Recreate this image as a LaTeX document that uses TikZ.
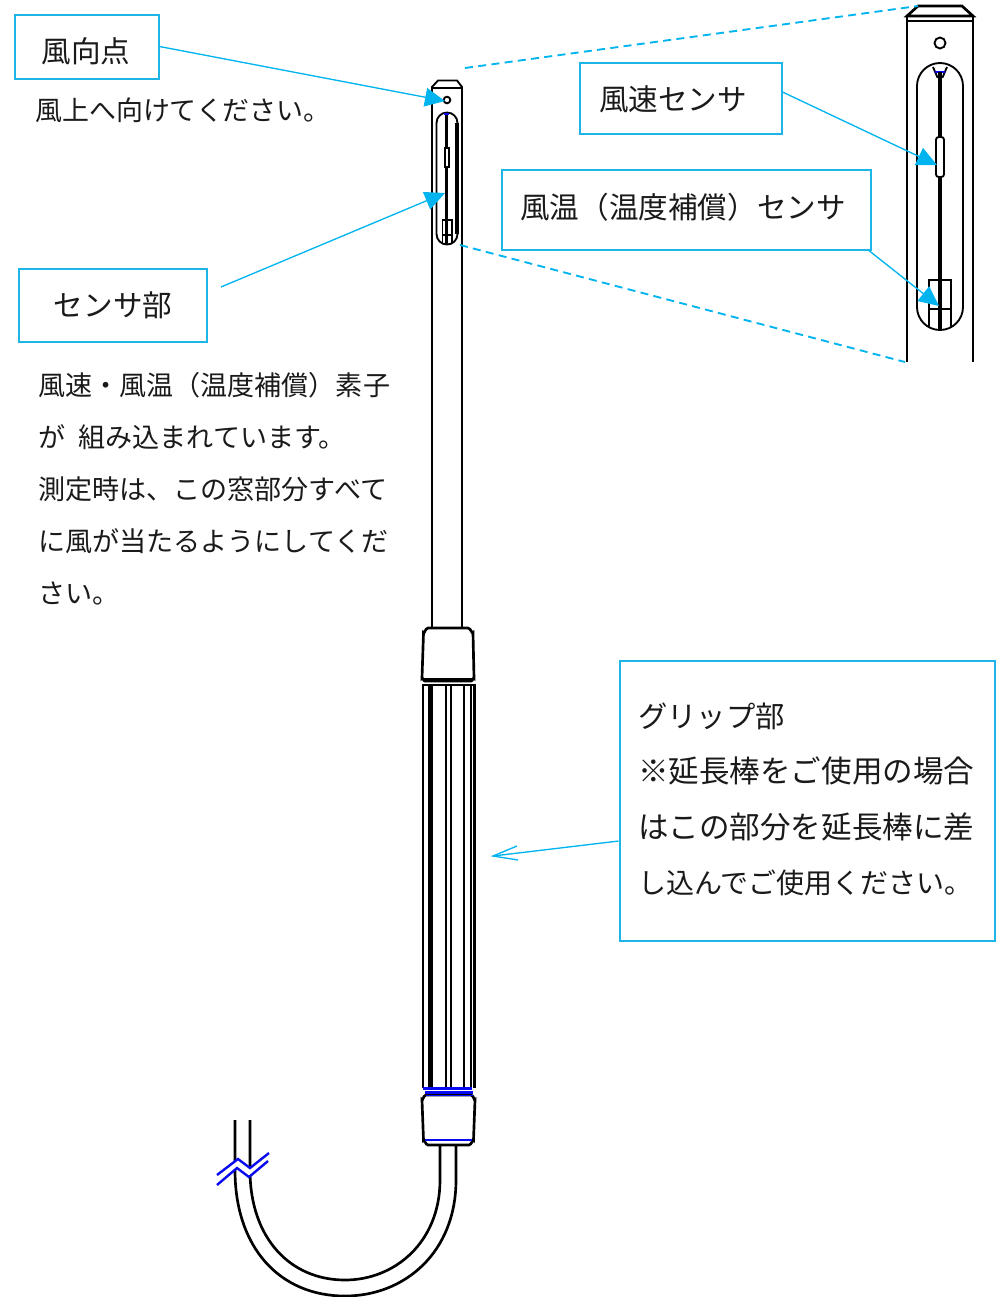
\documentclass[tikz,border=0pt]{standalone}
\usepackage{fontspec}
\setmainfont{Noto Sans CJK JP}
\usetikzlibrary{arrows.meta}
\definecolor{cy}{HTML}{1DB4E6}
\definecolor{tip}{HTML}{00B4F0}
\definecolor{bl}{HTML}{0A0AF0}
\definecolor{txt}{HTML}{1A1A1A}
\tikzset{
 box/.style={draw=cy,line width=1.5pt,fill=white,inner sep=0pt,anchor=north west},
 lbl/.style={font=\fontsize{22.2pt}{26pt}\selectfont,text=txt,inner sep=0pt},
 body/.style={anchor=north west,inner sep=0pt,align=left,text=txt},
 conn/.style={draw=tip,line width=1pt,-{Triangle[length=15pt,width=14pt,fill=tip]}},
 plainconn/.style={draw=tip,line width=1pt},
 dsh/.style={draw=tip,line width=1.4pt,dash pattern=on 6pt off 4pt},
 ink/.style={draw=black,line width=1.4pt},
 thick ink/.style={draw=black,line width=2pt},
 blu/.style={draw=bl,line width=1.8pt},
}
\begin{document}
\begin{tikzpicture}[x=0.75pt,y=-0.75pt]
\useasboundingbox (0,0) rectangle (996,1297);

% main probe
\draw[ink] (432,628) -- (432,87) -- (438,80.5) -- (457,80.5) -- (462,87) -- (462,628);
\draw[thick ink] (432,88) -- (462,88);
\draw[ink] (447,100) circle (3.3);
\draw[ink] (436.5,123) arc (180:360:10.5) -- (457.5,234) arc (0:180:10.5) -- cycle;
\draw[line width=2.4pt] (457,123) -- (457,234);
\draw[thick ink] (446.5,113) -- (446.5,148) (446.5,167) -- (446.5,220);
\draw[line width=0.9pt] (445,148) rectangle (449,167);
\draw[blu] (444,114) -- (449,114);
\draw[ink] (442.5,244) -- (442.5,220) -- (452,220) -- (452,244) (442.5,235) -- (452,235);
\draw[thick ink] (446.8,220) -- (446.8,244);

% upper collar
\draw[thick ink,fill=white] (422,678) -- (423.5,633) to[out=-90,in=180] (428,628) -- (468,628) to[out=0,in=-90] (473,633) -- (474,678) to[out=90,in=0] (471,681) -- (425,681) to[out=180,in=90] cycle;
\draw[line width=2.6pt] (424,680) -- (472,680);
% grip
\draw[thick ink] (423,1088) -- (423,685) -- (474.5,685) -- (474.5,1088);
\foreach \gx/\gw in {429/1.4,431.5/2,446/1.4,451/1.4,464/1.4,471/1.8}{\draw[line width=\gw pt] (\gx,685) -- (\gx,1088);}
% lower collar
\draw[thick ink] (422,1100) to[out=-90,in=180] (426,1095) -- (471,1095) to[out=0,in=-90] (475,1100) -- (473.5,1140) to[out=90,in=0] (469,1145) -- (428,1145) to[out=180,in=90] (423.5,1140) -- cycle;
\draw[blu,line width=2pt] (423,1088.5) -- (472,1088.5);
\draw[blu,line width=2pt] (425,1092.5) -- (473,1092.5);
\draw[blu,line width=1.1pt] (426,1095.5) -- (473,1095.5);
\draw[blu,line width=2pt] (425,1140) -- (472,1140);

% cable
\draw[thick ink] (440,1146) -- (440,1180) .. controls (440,1242) and (395,1280) .. (345,1280) .. controls (290,1280) and (250,1238) .. (250,1170) -- (250,1120);
\draw[thick ink] (456,1146) -- (456,1180) .. controls (456,1252) and (405,1296) .. (345,1296) .. controls (280,1296) and (235,1248) .. (235,1170) -- (235,1120);
\fill[white] (215,1172) -- (238,1160) -- (250,1169) -- (270,1155) -- (270,1161) -- (249,1176) -- (237,1167) -- (215,1184) -- cycle;
\draw[blu] (217,1175) -- (238,1159) -- (250,1168) -- (269,1153);
\draw[blu] (217,1185) -- (237,1168) -- (249,1177) -- (268,1161);

% detail view
\draw[thick ink] (907,362) -- (907,16);
\draw[ink] (973,16) -- (973,362);
\draw[thick ink] (907,16) -- (918,6) -- (962,6) -- (973,16) -- cycle;
\draw[ink] (907,21) -- (973,21);
\draw[ink] (940,43) circle (5.5);
\draw[ink] (917,86) arc (180:360:23) -- (963,307) arc (0:180:23) -- cycle;
\draw[ink] (933,67) -- (936,74) arc (180:0:4) -- (947,67);
\draw[blu] (935,72) -- (945,72);
\draw[line width=2.8pt] (940,72) -- (940,137) (940,177) -- (940,330);
\draw[ink,fill=white,rounded corners=2pt] (936,137) rectangle (944,177);
\draw[thick ink] (929,328) -- (929,280) -- (951,280) -- (951,328);
\draw[thick ink] (929,309) -- (951,309);

% boxes and text
\node[box,minimum width=108pt,minimum height=48pt] (wind) at (13.5,13.5) {};
\node[lbl] (windlabel) at (86,51) {風向点};
\node[body,font=\fontsize{20.2pt}{24pt}\selectfont] (windtxt) at (35,98) {風上へ向けてください。};
\node[box,minimum width=141pt,minimum height=54.75pt] (sensor) at (17.5,267.5) {};
\node[lbl] (sensorlabel) at (113,305) {センサ部};
\node[body,font=\fontsize{20.3pt}{39pt}\selectfont] (sensortxt) at (38,372) {風速・風温（温度補償）素子\\が\hspace{10pt}組み込まれています。\\測定時は、この窓部分すべて\\に風が当たるようにしてくだ\\さい。};
\node[box,minimum width=151.5pt,minimum height=53.25pt] (speed) at (578.5,61.5) {};
\node[lbl] (speedlabel) at (673,99) {風速センサ};
\node[box,minimum width=276.75pt,minimum height=60pt] (temp) at (500.5,168.5) {};
\node[lbl] (templabel) at (683,207) {風温（温度補償）センサ};
\node[box,minimum width=281.25pt,minimum height=210pt] (grip) at (618.5,659.5) {};
\node[body,font=\fontsize{22pt}{41.3pt}\selectfont] (griptxt) at (638,703) {グリップ部\\\fontsize{22.9pt}{41.3pt}\selectfont ※延長棒をご使用の場合\\\fontsize{22.9pt}{41.3pt}\selectfont はこの部分を延長棒に差\\\fontsize{21pt}{41.3pt}\selectfont し込んでご使用ください。};

% connectors
\coordinate (windtip) at (445,101);
\coordinate (sensortip) at (445,193);
\coordinate (sensorend) at (221,287);
\coordinate (speedtip) at (937,165);
\coordinate (temptip) at (939,306);
\coordinate (griptip) at (493,856);
\coordinate (gripb1) at (517,846);
\coordinate (gripb2) at (518,860);
\coordinate (d1a) at (465,68);
\coordinate (d1b) at (918,6);
\coordinate (d2a) at (460,245);
\coordinate (d2b) at (905,362);
\draw[conn] (wind.east) -- (windtip);
\draw[conn] (sensorend) -- (sensortip);
\draw[conn] ([yshift=4.5pt]speed.east) -- (speedtip);
\draw[conn] ([xshift=-2pt]temp.south east) -- (temptip);
\draw[plainconn] ([yshift=-30.4pt]grip.west) -- (griptip);
\draw[plainconn] (gripb1) -- (griptip) -- (gripb2);
\draw[dsh] (d1a) -- (d1b);
\draw[dsh] (d2a) -- (d2b);
\end{tikzpicture}
\end{document}
